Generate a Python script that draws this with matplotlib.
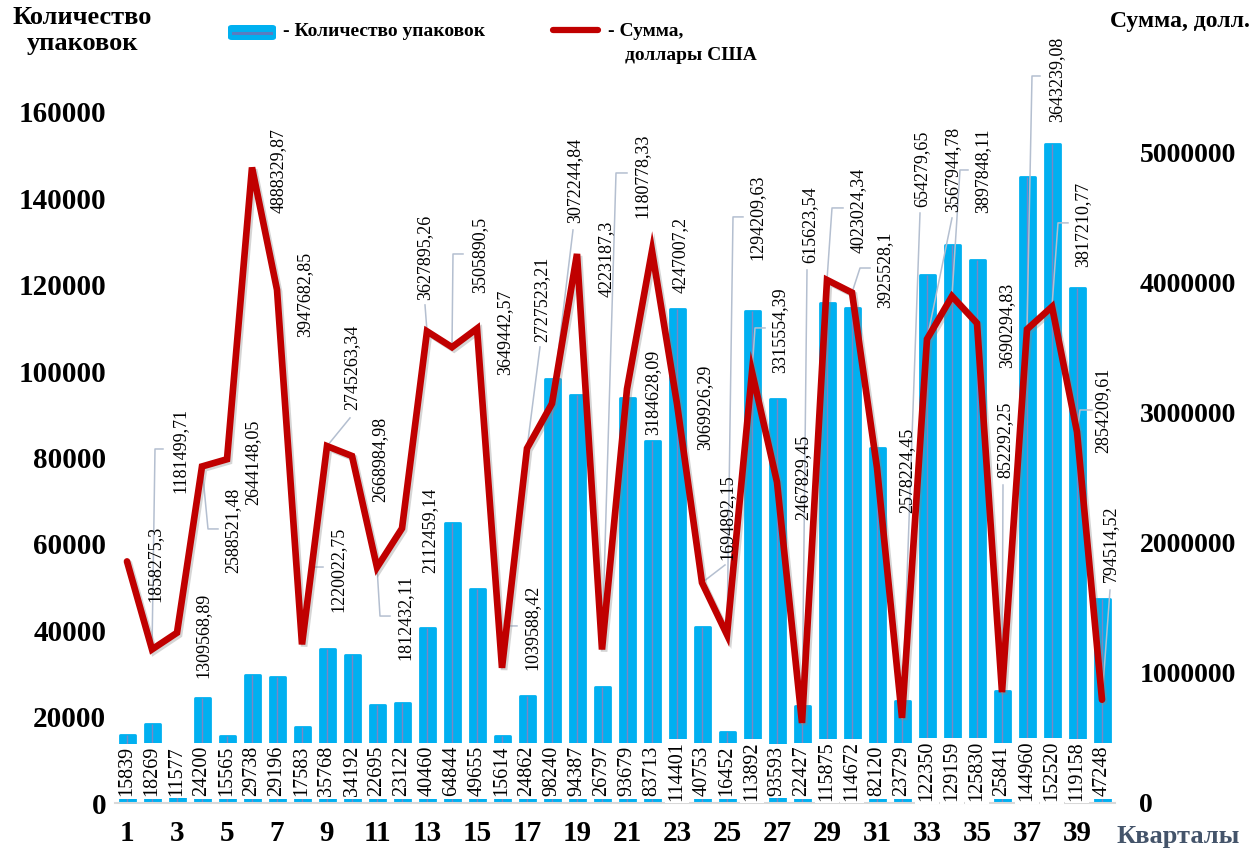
import matplotlib
matplotlib.use("Agg")
import matplotlib.pyplot as plt
import matplotlib.patheffects as pe
from matplotlib.patches import FancyBboxPatch
from matplotlib.lines import Line2D

plt.rcParams['font.family'] = ['Liberation Serif', 'DejaVu Serif']

# ---- data -------------------------------------------------------------
quarters = list(range(1, 41))

packages = [15839, 18269, 11577, 24200, 15565, 29738, 29196, 17583, 35768, 34192,
            22695, 23122, 40460, 64844, 49655, 15614, 24862, 98240, 94387, 26797,
            93679, 83713, 114401, 40753, 16452, 113892, 93593, 22427, 115875, 114672,
            82120, 23729, 122350, 129159, 125830, 25841, 144960, 152520, 119158, 47248]

amount_usd = [1858275.30, 1181499.71, 1309568.89, 2588521.48, 2644148.05,
              4888329.87, 3947682.85, 1220022.75, 2745263.34, 2668984.98,
              1812432.11, 2112459.14, 3627895.26, 3505890.50, 3649442.57,
              1039588.42, 2727523.21, 3072244.84, 4223187.30, 1180778.33,
              3184628.09, 4247007.20, 3069926.29, 1694892.15, 1294209.63,
              3315554.39, 2467829.45, 615623.54, 4023024.34, 3925528.10,
              2578224.45, 654279.65, 3567944.78, 3897848.11, 3690294.83,
              852292.25, 3643239.08, 3817210.77, 2854209.61, 794514.52]

left_ticks = [0, 20000, 40000, 60000, 80000, 100000, 120000, 140000, 160000]
right_ticks = [0, 1000000, 2000000, 3000000, 4000000, 5000000]
x_ticks = list(range(1, 40, 2))

# ---- label layout for the amount series (x in quarters, y = label bottom) --
label_x = [2.12, 3.12, 4.04, 5.24, 6.04, 7.04, 8.12, 9.44, 10.0, 11.12,
           12.12, 13.12, 12.92, 15.12, 16.12, 17.2, 17.6, 18.92, 20.16, 21.6,
           22.04, 23.12, 24.12, 25.0, 26.2, 27.12, 28.04, 28.32, 30.24, 31.32,
           32.2, 32.8, 34.04, 35.24, 36.2, 36.12, 38.2, 39.24, 40.04, 40.32]
label_y = [1.546e6, 2.385e6, 0.962e6, 1.769e6, 2.292e6, 4.538e6, 3.585e6, 1.469e6, 3.023e6, 2.315e6,
           1.100e6, 1.769e6, 3.869e6, 3.923e6, 3.292e6, 1.023e6, 3.546e6, 4.462e6, 3.892e6, 4.500e6,
           2.831e6, 3.923e6, 2.715e6, 1.869e6, 4.177e6, 3.308e6, 2.177e6, 4.154e6, 4.231e6, 3.808e6,
           2.231e6, 4.585e6, 4.546e6, 4.538e6, 3.346e6, 2.500e6, 5.238e6, 4.123e6, 2.692e6, 1.700e6]

# leader lines: point index -> (elbow x, elbow y, horizontal tick length)
leaders = {
    2: (2.12, 2.723e6, 0.32), 4: (4.24, 2.108e6, 0.40), 8: (8.44, 1.815e6, 0.40),
    9: (9.92, 2.962e6, 0.0), 11: (11.12, 1.438e6, 0.40), 13: (12.92, 3.831e6, 0.0),
    14: (14.04, 4.223e6, 0.40), 16: (16.2, 1.362e6, 0.40), 17: (17.52, 3.508e6, 0.0),
    18: (18.84, 4.408e6, 0.0), 20: (20.56, 4.846e6, 0.44), 24: (24.92, 1.831e6, 0.0),
    25: (25.24, 4.508e6, 0.40), 26: (26.12, 3.654e6, 0.40), 28: (28.2, 4.100e6, 0.0),
    29: (29.2, 4.577e6, 0.44), 30: (30.32, 4.115e6, 0.40), 32: (32.72, 4.538e6, 0.0),
    33: (34.0, 4.500e6, 0.0), 34: (34.32, 4.869e6, 0.32), 36: (36.04, 2.446e6, 0.0),
    37: (37.2, 5.592e6, 0.32), 38: (38.24, 4.462e6, 0.40), 39: (39.12, 3.023e6, 0.48),
    40: (40.32, 1.638e6, 0.0),
}

BAR_COLOR = '#00b0f0'
BAR_CORE = '#7d86c4'
LINE_COLOR = '#c00000'
LEADER_COLOR = '#b4bfd0'
W, H = 1257, 850


def fx(px):
    return px / W


def fy(py):
    return 1 - py / H


def fmt_amount(v):
    s = ('%.2f' % v).rstrip('0').rstrip('.')
    return s.replace('.', ',')


fig = plt.figure(figsize=(W / 100, H / 100), dpi=100)
ax = fig.add_axes([fx(114.5), fy(803), 1000 / W, 691 / H])
ax.set_xlim(0.5, 40.5)
ax.set_ylim(0, 160000)

# bars (slightly softened corners via a round-joined outline)
ax.bar(quarters, packages, width=0.6, color=BAR_COLOR, edgecolor=BAR_COLOR,
       linewidth=2.0, joinstyle='round', zorder=2)
ax.vlines(quarters, 0, packages, color=BAR_CORE, lw=1.0, zorder=2.5)

# bar value labels on white plates at the bottom
for q, n in zip(quarters, packages):
    ax.text(q, 7400, str(n), rotation=90, ha='center', va='center',
            fontsize=14.5, color='black', zorder=5,
            bbox=dict(boxstyle='square,pad=0.12', fc='white', ec='none'))

ax.set_yticks(left_ticks)
ax.set_yticklabels([str(t) for t in left_ticks], fontsize=21, fontweight='bold')
ax.set_xticks(x_ticks)
ax.set_xticklabels([str(t) for t in x_ticks], fontsize=21, fontweight='bold')
ax.tick_params(axis='both', length=0)
ax.tick_params(axis='y', pad=6)
ax.tick_params(axis='x', pad=12)
for side in ('left', 'right', 'top'):
    ax.spines[side].set_visible(False)
ax.spines['bottom'].set_color('#d9d9d9')
ax.spines['bottom'].set_linewidth(1.5)

# amount line on the secondary axis
ax2 = ax.twinx()
ax2.set_ylim(0, 5.315e6)
ax2.plot(quarters, amount_usd, color=LINE_COLOR, lw=4.8, solid_joinstyle='miter',
         solid_capstyle='round', zorder=4,
         path_effects=[pe.SimpleLineShadow(offset=(1.5, -1.5), shadow_color='#888888', alpha=0.35),
                       pe.Normal()])
ax2.set_yticks(right_ticks)
ax2.set_yticklabels([str(t) for t in right_ticks], fontsize=20, fontweight='bold')
ax2.tick_params(axis='y', length=0, pad=18)
for side in ('left', 'right', 'top', 'bottom'):
    ax2.spines[side].set_visible(False)

# leader lines
for idx, (ex, ey, tick) in leaders.items():
    q, v = quarters[idx - 1], amount_usd[idx - 1]
    xs = [ex + tick, ex, q] if tick else [ex, q]
    ys = [ey, ey, v] if tick else [ey, v]
    ax2.plot(xs, ys, color=LEADER_COLOR, lw=1.1, zorder=3, clip_on=False)

# amount labels
for v, lx, ly in zip(amount_usd, label_x, label_y):
    ax2.text(lx, ly, fmt_amount(v), rotation=90, ha='center', va='bottom',
             fontsize=13, color='black', zorder=6, clip_on=False)

# axis titles
fig.text(fx(82), fy(6), 'Количество\nупаковок', ha='center', va='top',
         fontsize=19, fontweight='bold', linespacing=1.15)
fig.text(fx(1180), fy(22), 'Сумма, долл.', ha='center', va='center',
         fontsize=17, fontweight='bold')
fig.text(fx(1178), fy(836), 'Кварталы', ha='center', va='center',
         fontsize=19, fontweight='bold', color='#44546a')

# legend
fig.add_artist(FancyBboxPatch((fx(228), fy(40)), fx(48), 15 / H,
                              boxstyle='round,pad=0,rounding_size=0.003',
                              transform=fig.transFigure, fc=BAR_COLOR, ec='none'))
fig.add_artist(Line2D([fx(233), fx(271)], [fy(32.5), fy(32.5)], color='#5a7cc0', lw=2.2,
                      transform=fig.transFigure))
fig.text(fx(283), fy(32), '- Количество упаковок', ha='left', va='center',
         fontsize=14, fontweight='bold')
fig.add_artist(Line2D([fx(553), fx(598)], [fy(30), fy(30)], color=LINE_COLOR, lw=4.5,
                      solid_capstyle='round', transform=fig.transFigure))
fig.text(fx(608), fy(32), '- Сумма,', ha='left', va='center', fontsize=14, fontweight='bold')
fig.text(fx(625), fy(55), 'доллары США', ha='left', va='center', fontsize=14, fontweight='bold')

fig.savefig('out.png', dpi=100, facecolor='white')
